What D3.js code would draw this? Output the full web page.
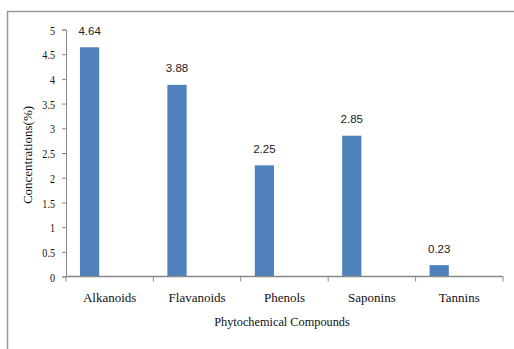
<!DOCTYPE html>
<html>
<head>
<meta charset="utf-8">
<script src="https://cdn.jsdelivr.net/npm/d3@7"></script>
<style>
  html, body { margin: 0; padding: 0; background: #fff; }
  svg { display: block; }
</style>
</head>
<body>
<svg id="chart" width="514" height="349"></svg>
<script>
// Phytochemical content of the extract (%)
const compounds = ["Alkanoids", "Flavanoids", "Phenols", "Saponins", "Tannins"];
const concentrations = [4.64, 3.88, 2.25, 2.85, 0.23];
const yTicks = [0, 0.5, 1, 1.5, 2, 2.5, 3, 3.5, 4, 4.5, 5];
const yTitle = "Concentrations(%)";
const xTitle = "Phytochemical Compounds";

const svg = d3.select("#chart");
const serif = "'Liberation Serif', 'Times New Roman', serif";
const sans = "'Liberation Sans', Arial, sans-serif";

// outer frame
svg.append("rect")
  .attr("x", 7.5).attr("y", 11.5)
  .attr("width", 520).attr("height", 350)
  .attr("fill", "none")
  .attr("stroke", "#9a9a9a")
  .attr("stroke-width", 1.5);

const plotLeft = 66, plotRight = 503, plotTop = 29.5, plotBottom = 276.5;

const x = d3.scaleBand().domain(compounds).range([plotLeft, plotRight]).padding(0);
const y = d3.scaleLinear().domain([0, 5]).range([plotBottom, plotTop]);

// bars sit in the left part of each category slot
const barOffset = 0.16, barWidth = 0.22;
const bw = x.bandwidth();

svg.append("g").selectAll("rect")
  .data(compounds)
  .join("rect")
  .attr("x", (d) => x(d) + bw * barOffset)
  .attr("width", bw * barWidth)
  .attr("y", (d, i) => y(concentrations[i]))
  .attr("height", (d, i) => y(0) - y(concentrations[i]))
  .attr("fill", "#4f81bd");

// value labels
svg.append("g").selectAll("text")
  .data(compounds)
  .join("text")
  .attr("x", (d) => x(d) + bw * (barOffset + barWidth / 2))
  .attr("y", (d, i) => y(concentrations[i]) - 12.5)
  .attr("text-anchor", "middle")
  .attr("font-family", sans)
  .attr("font-size", "11.5px")
  .attr("fill", "#222")
  .text((d, i) => concentrations[i].toFixed(2));

// y axis
const yAxis = svg.append("g")
  .attr("transform", `translate(${plotLeft},0)`)
  .call(d3.axisLeft(y).tickValues(yTicks).tickSize(4).tickPadding(7)
    .tickFormat((d) => String(d)));
yAxis.select(".domain").attr("stroke", "#888").attr("stroke-width", 1);
yAxis.selectAll(".tick line").attr("stroke", "#888");
yAxis.selectAll(".tick text")
  .attr("font-family", serif)
  .attr("font-size", "13px")
  .attr("fill", "#111")
  .attr("dy", "0.36em")
  .each(function () {
    // narrow numerals
    const t = d3.select(this);
    const xp = +t.attr("x");
    t.attr("transform", `translate(${xp},0) scale(0.78,1) translate(${-xp},0)`);
  });

// x axis with ticks at category boundaries
const xAxisG = svg.append("g").attr("transform", `translate(0,${plotBottom})`);
xAxisG.append("line")
  .attr("x1", plotLeft).attr("x2", plotRight)
  .attr("stroke", "#888").attr("stroke-width", 1.5);
const bounds = compounds.map((d) => x(d)).concat([plotRight]);
xAxisG.selectAll("line.tick")
  .data(bounds)
  .join("line")
  .attr("class", "tick")
  .attr("x1", (d) => d).attr("x2", (d) => d)
  .attr("y1", 0).attr("y2", 5)
  .attr("stroke", "#888");
xAxisG.selectAll("text")
  .data(compounds)
  .join("text")
  .attr("x", (d) => x(d) + bw / 2)
  .attr("y", 25)
  .attr("text-anchor", "middle")
  .attr("font-family", serif)
  .attr("font-size", "13px")
  .attr("fill", "#111")
  .text((d) => d);

// axis titles
svg.append("text")
  .attr("transform", `translate(32,${(plotTop + plotBottom) / 2 + 2}) rotate(-90)`)
  .attr("text-anchor", "middle")
  .attr("font-family", serif)
  .attr("font-size", "13px")
  .attr("fill", "#111")
  .text(yTitle);

svg.append("text")
  .attr("x", 282)
  .attr("y", 325.5)
  .attr("text-anchor", "middle")
  .attr("font-family", serif)
  .attr("font-size", "12.3px")
  .attr("fill", "#111")
  .text(xTitle);
</script>
</body>
</html>
